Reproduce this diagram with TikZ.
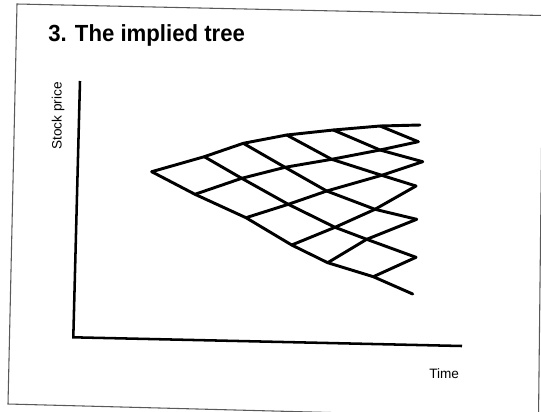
\documentclass[tikz,border=0pt]{standalone}
\usepackage{fontspec}
\setmainfont{Liberation Sans}
\newfontfamily\titlefont[FakeStretch=0.95]{Liberation Sans}
\begin{document}
\begin{tikzpicture}[x=0.75pt,y=-0.75pt,
  tree/.style={line width=2.2pt, line join=round, line cap=round},
  axis/.style={line width=1.9pt, line join=miter},
  frame/.style={line width=0.8pt, draw=black!65},
  lab/.style={inner sep=0pt, font=\fontsize{10.2pt}{12pt}\selectfont}]
\useasboundingbox (0,0) rectangle (541,411);
\begin{scope}
  \clip (0,0) rectangle (541,411);
  \draw[frame] (17,4) -- (543,15.5) -- (538.5,418) -- (8,404) -- cycle;
\end{scope}
% title and labels
\node[anchor=base west, inner sep=0pt, font=\titlefont\bfseries\fontsize{17.5pt}{20pt}\selectfont] (title) at (48,41.7) {3. The implied tree};
\node[lab, rotate=90] (ylab) at (58,116) {Stock price};
\node[lab, anchor=base west] (xlab) at (429,378) {Time};
% axes
\coordinate (ytop) at (80,81);
\coordinate (orig) at (73.3,337.3);
\coordinate (xend) at (462,346);
\draw[axis] (ytop) -- (orig) -- (xend);
% tree nodes
\coordinate (n00) at (151.7,171.7);
\coordinate (n10) at (204.3,156.7);
\coordinate (n11) at (195,194.3);
\coordinate (n20) at (243.3,143.3);
\coordinate (n21) at (241.7,178.3);
\coordinate (n22) at (246,217.7);
\coordinate (n30) at (286.7,135);
\coordinate (n31) at (285,167.3);
\coordinate (n32) at (288.3,204.3);
\coordinate (n33) at (291.7,245);
\coordinate (n40) at (333.3,130);
\coordinate (n41) at (331.7,159.3);
\coordinate (n42) at (326.7,191);
\coordinate (n43) at (335,227.3);
\coordinate (n44) at (327.7,262.7);
\coordinate (n50) at (380,126);
\coordinate (n51) at (380,150);
\coordinate (n52) at (381.7,175.3);
\coordinate (n53) at (375,209.3);
\coordinate (n54) at (366.7,239.3);
\coordinate (n55) at (373.3,276.7);
\coordinate (n60) at (420,125);
\coordinate (n61) at (418.3,141.7);
\coordinate (n62) at (422.7,161.7);
\coordinate (n63) at (416,186);
\coordinate (n64) at (416.7,219.3);
\coordinate (n65) at (416,257.3);
\coordinate (n66) at (412.7,294);
% up-lines
\draw[tree] (n00) -- (n10) -- (n20) -- (n30) -- (n40) -- (n50) -- (n60);
\draw[tree] (n11) -- (n21) -- (n31) -- (n41) -- (n51) -- (n61);
\draw[tree] (n22) -- (n32) -- (n42) -- (n52) -- (n62);
\draw[tree] (n33) -- (n43) -- (n53) -- (n63);
\draw[tree] (n44) -- (n54) -- (n64);
\draw[tree] (n55) -- (n65);
% down-lines
\draw[tree] (n00) -- (n11) -- (n22) -- (n33) -- (n44) -- (n55) -- (n66);
\draw[tree] (n10) -- (n21) -- (n32) -- (n43) -- (n54) -- (n65);
\draw[tree] (n20) -- (n31) -- (n42) -- (n53) -- (n64);
\draw[tree] (n30) -- (n41) -- (n52) -- (n63);
\draw[tree] (n40) -- (n51) -- (n62);
\draw[tree] (n50) -- (n61);
\end{tikzpicture}
\end{document}
